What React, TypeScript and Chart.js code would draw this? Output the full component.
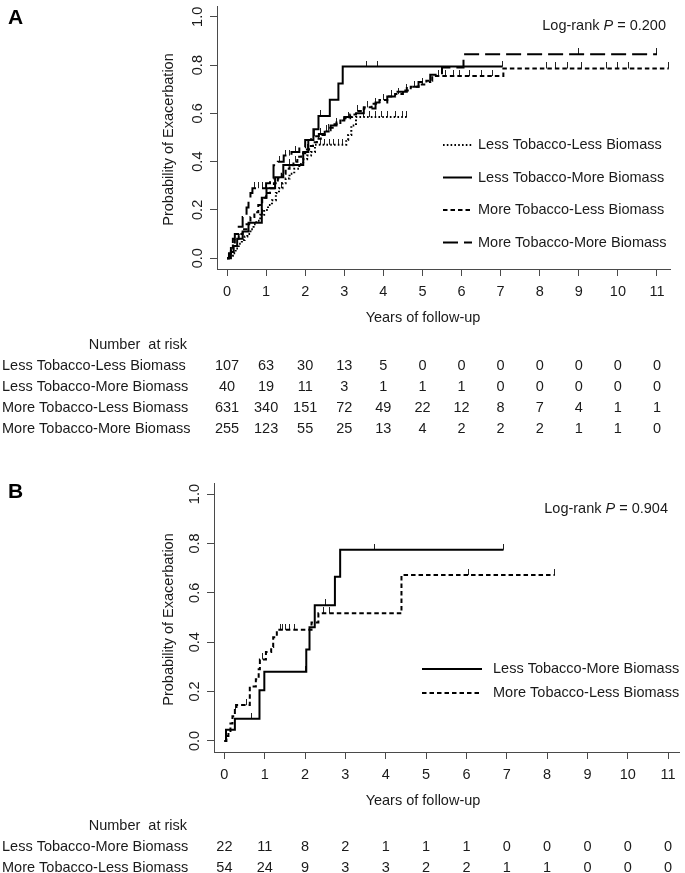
import React, { useEffect, useRef } from "react";
import { Chart, registerables } from "chart.js";

Chart.register(...registerables);

const FONT = '"Liberation Sans", Arial, Helvetica, sans-serif';
const TEXT = "#1a1a1a";
const AXIS = "#4a4a4a";
const INK = "#000000";

// ---------- shared ticks / labels ----------
const xTickValues = [0, 1, 2, 3, 4, 5, 6, 7, 8, 9, 10, 11];
const yTickValues = [0, 0.2, 0.4, 0.6, 0.8, 1.0];
const yTickLabels = ["0.0", "0.2", "0.4", "0.6", "0.8", "1.0"];
const yTitle = "Probability of Exacerbation";
const xTitle = "Years of follow-up";
const riskHeader = "Number  at risk";

const nameLTLB = "Less Tobacco-Less Biomass";
const nameLTMB = "Less Tobacco-More Biomass";
const nameMTLB = "More Tobacco-Less Biomass";
const nameMTMB = "More Tobacco-More Biomass";

// ---------- Panel A data ----------
const aLTLBTime = [0, 0.08, 0.15, 0.22, 0.3, 0.38, 0.45, 0.52, 0.6, 0.68, 0.75, 0.85, 0.95, 1.05, 1.15, 1.25, 1.33, 1.42, 1.5, 1.6, 1.72, 1.85, 1.95, 2.05, 2.15, 2.25, 3.05, 3.1, 3.18, 3.3, 4.65];
const aLTLBProb = [0, 0.01, 0.02, 0.04, 0.06, 0.075, 0.09, 0.1, 0.12, 0.14, 0.155, 0.18, 0.2, 0.22, 0.24, 0.27, 0.29, 0.31, 0.33, 0.35, 0.37, 0.39, 0.41, 0.425, 0.44, 0.47, 0.49, 0.51, 0.55, 0.585, 0.585];
const aLTLBCensor = [0.9, 1.4, 2.4, 2.5, 2.62, 2.72, 2.85, 2.95, 3.5, 3.65, 3.8, 3.95, 4.1, 4.3, 4.5, 4.6];

const aLTMBTime = [0, 0.1, 0.17, 0.26, 0.4, 0.55, 0.89, 1.01, 1.23, 1.44, 1.95, 2.08, 2.21, 2.34, 2.63, 2.85, 2.96, 7.05];
const aLTMBProb = [0, 0.025, 0.05, 0.08, 0.11, 0.147, 0.25, 0.29, 0.335, 0.386, 0.44, 0.49, 0.534, 0.589, 0.656, 0.724, 0.794, 0.794];
const aLTMBCensor = [0.3, 1.6, 2.4, 3.58, 3.84, 7.05];

const aMTLBTime = [0, 0.05, 0.1, 0.15, 0.2, 0.3, 0.4, 0.5, 0.6, 0.7, 0.8, 0.9, 1.0, 1.1, 1.2, 1.3, 1.4, 1.5, 1.6, 1.7, 1.8, 1.9, 2.0, 2.1, 2.2, 2.3, 2.4, 2.5, 2.6, 2.75, 2.9, 3.0, 3.15, 3.3, 3.5, 3.7, 3.9, 4.1, 4.3, 4.5, 4.7, 4.9, 5.1, 5.25, 7.07, 11.3];
const aMTLBProb = [0, 0.02, 0.04, 0.06, 0.08, 0.1, 0.12, 0.14, 0.17, 0.19, 0.22, 0.25, 0.27, 0.29, 0.31, 0.33, 0.35, 0.37, 0.385, 0.4, 0.42, 0.435, 0.45, 0.465, 0.48, 0.495, 0.51, 0.525, 0.54, 0.555, 0.57, 0.58, 0.595, 0.61, 0.625, 0.64, 0.655, 0.67, 0.68, 0.695, 0.71, 0.72, 0.735, 0.755, 0.786, 0.786];
const aMTLBCensor = [1.45, 1.75, 2.05, 2.35, 2.55, 2.8, 3.1, 3.35, 3.6, 3.8, 4.0, 4.2, 4.4, 4.6, 4.8, 5.0, 5.4, 5.6, 5.8, 5.95, 6.2, 6.5, 6.8, 8.18, 8.41, 8.7, 9.08, 9.72, 9.98, 10.27, 11.3];

const aMTMBTime = [0, 0.05, 0.1, 0.15, 0.2, 0.3, 0.4, 0.5, 0.55, 0.6, 0.65, 1.0, 1.1, 1.19, 1.3, 1.45, 1.65, 1.85, 2.0, 2.15, 2.35, 2.5, 2.65, 2.8, 3.0, 3.2, 3.5, 3.8, 4.1, 4.3, 4.6, 4.9, 5.2, 5.5, 6.05, 11.0];
const aMTMBProb = [0, 0.02, 0.05, 0.08, 0.1, 0.13, 0.17, 0.21, 0.235, 0.27, 0.29, 0.31, 0.33, 0.385, 0.4, 0.425, 0.44, 0.46, 0.49, 0.505, 0.515, 0.53, 0.55, 0.57, 0.585, 0.6, 0.62, 0.645, 0.67, 0.69, 0.71, 0.73, 0.76, 0.79, 0.845, 0.845];
const aMTMBCensor = [0.7, 0.8, 0.9, 1.35, 1.5, 1.6, 1.75, 2.25, 2.4, 2.6, 9.0, 11.0];

const aRiskLTLB = [107, 63, 30, 13, 5, 0, 0, 0, 0, 0, 0, 0];
const aRiskLTMB = [40, 19, 11, 3, 1, 1, 1, 0, 0, 0, 0, 0];
const aRiskMTLB = [631, 340, 151, 72, 49, 22, 12, 8, 7, 4, 1, 1];
const aRiskMTMB = [255, 123, 55, 25, 13, 4, 2, 2, 2, 1, 1, 0];
const aPValue = "0.200";

// ---------- Panel B data ----------
const bLTMBTime = [0, 0.04, 0.26, 0.87, 0.99, 2.03, 2.11, 2.24, 2.74, 2.87, 6.92];
const bLTMBProb = [0, 0.045, 0.09, 0.205, 0.28, 0.37, 0.46, 0.55, 0.665, 0.775, 0.775];
const bLTMBCensor = [0.66, 2.0, 2.5, 3.73, 6.92];

const bMTLBTime = [0, 0.05, 0.1, 0.15, 0.2, 0.26, 0.3, 0.63, 0.78, 0.85, 0.88, 1.03, 1.16, 1.21, 1.3, 2.16, 2.33, 4.39, 8.19];
const bMTLBProb = [0, 0.02, 0.04, 0.07, 0.1, 0.125, 0.145, 0.22, 0.25, 0.29, 0.33, 0.36, 0.38, 0.42, 0.45, 0.48, 0.517, 0.672, 0.672];
const bMTLBCensor = [0.27, 0.55, 0.95, 1.38, 1.45, 1.52, 1.62, 1.75, 2.45, 2.6, 6.06, 8.19];

const bRiskLTMB = [22, 11, 8, 2, 1, 1, 1, 0, 0, 0, 0, 0];
const bRiskMTLB = [54, 24, 9, 3, 3, 2, 2, 1, 1, 0, 0, 0];
const bPValue = "0.904";

// ---------- styles ----------
const dashDotted = [1.6, 2.2];
const dashSolid: number[] = [];
const dashDashed = [4.5, 3];
const dashLong = [15, 6];

type Series = { name: string; time: number[]; prob: number[]; censor: number[]; dash: number[] };
type Panel = {
  letter: string;
  pageTop: number;
  height: number;
  area: { left: number; right: number; top: number; bottom: number };
  xMin: number;
  xMax: number;
  series: Series[];
  legend: { x1: number; x2: number; textX: number; rows: number[] };
  pValue: string;
  pRight: number;
  pY: number;
  letterY: number;
  risk: { names: string[]; counts: number[][]; headerY: number; rows: number[] };
};

const panels: Panel[] = [
  {
    letter: "A",
    pageTop: 0,
    height: 460,
    area: { left: 217, right: 670, top: 0, bottom: 269 },
    xMin: -0.256,
    xMax: 11.333,
    series: [
      { name: nameLTLB, time: aLTLBTime, prob: aLTLBProb, censor: aLTLBCensor, dash: dashDotted },
      { name: nameLTMB, time: aLTMBTime, prob: aLTMBProb, censor: aLTMBCensor, dash: dashSolid },
      { name: nameMTLB, time: aMTLBTime, prob: aMTLBProb, censor: aMTLBCensor, dash: dashDashed },
      { name: nameMTMB, time: aMTMBTime, prob: aMTMBProb, censor: aMTMBCensor, dash: dashLong },
    ],
    legend: { x1: 443, x2: 472, textX: 478, rows: [145, 177.5, 210, 242.5] },
    pValue: aPValue,
    pRight: 666,
    pY: 26,
    letterY: 18,
    risk: {
      names: [nameLTLB, nameLTMB, nameMTLB, nameMTMB],
      counts: [aRiskLTLB, aRiskLTMB, aRiskMTLB, aRiskMTMB],
      headerY: 345,
      rows: [366, 387, 408, 429],
    },
  },
  {
    letter: "B",
    pageTop: 460,
    height: 413,
    area: { left: 214, right: 684, top: 23, bottom: 292 },
    xMin: -0.2575,
    xMax: 11.27,
    series: [
      { name: nameLTMB, time: bLTMBTime, prob: bLTMBProb, censor: bLTMBCensor, dash: dashSolid },
      { name: nameMTLB, time: bMTLBTime, prob: bMTLBProb, censor: bMTLBCensor, dash: dashDashed },
    ],
    legend: { x1: 422, x2: 482, textX: 493, rows: [209, 233] },
    pValue: bPValue,
    pRight: 668,
    pY: 49,
    letterY: 32,
    risk: {
      names: [nameLTMB, nameMTLB],
      counts: [bRiskLTMB, bRiskMTLB],
      headerY: 366,
      rows: [387, 408],
    },
  },
];

function stepValue(time: number[], prob: number[], t: number): number {
  let v = prob[0];
  for (let i = 0; i < time.length; i++) if (time[i] <= t) v = prob[i];
  return v;
}

// censor mark: a short vertical tick rising above the curve
function makeCensorMark(): HTMLCanvasElement {
  const c = document.createElement("canvas");
  c.width = 1;
  c.height = 12;
  const g = c.getContext("2d");
  if (g) {
    g.fillStyle = "#222";
    g.fillRect(0, 0, 1, 6);
  }
  return c;
}

function makeOverlay(panel: Panel) {
  return {
    id: "overlay" + panel.letter,
    afterDraw(chart: any) {
      const ctx: CanvasRenderingContext2D = chart.ctx;
      const xs = chart.scales.x;
      const ys = chart.scales.y;
      const area = chart.chartArea;
      const f = `14.5px ${FONT}`;
      ctx.save();
      ctx.fillStyle = TEXT;
      ctx.font = f;

      // rotated y tick labels
      yTickValues.forEach((v, i) => {
        const py = ys.getPixelForValue(v);
        ctx.save();
        ctx.translate(area.left - 19.5, py);
        ctx.rotate(-Math.PI / 2);
        ctx.textAlign = "center";
        ctx.textBaseline = "middle";
        ctx.fillText(yTickLabels[i], 0, 0);
        ctx.restore();
      });

      // y title
      ctx.save();
      ctx.translate(169, (area.top + area.bottom) / 2 + 2);
      ctx.rotate(-Math.PI / 2);
      ctx.textAlign = "center";
      ctx.textBaseline = "middle";
      ctx.fillText(yTitle, 0, 0);
      ctx.restore();

      // x title
      ctx.textAlign = "center";
      ctx.textBaseline = "middle";
      ctx.fillText(xTitle, 423, area.bottom + 49);

      // panel letter
      ctx.font = `bold 21px ${FONT}`;
      ctx.textAlign = "left";
      ctx.fillStyle = "#000";
      ctx.fillText(panel.letter, 8, panel.letterY);

      // log-rank text
      ctx.fillStyle = TEXT;
      ctx.font = f;
      const partA = "Log-rank ";
      const partC = " = " + panel.pValue;
      const wA = ctx.measureText(partA).width;
      const wC = ctx.measureText(partC).width;
      ctx.font = `italic 14.5px ${FONT}`;
      const wB = ctx.measureText("P").width;
      let sx = panel.pRight - (wA + wB + wC);
      ctx.textAlign = "left";
      ctx.font = f;
      ctx.fillText(partA, sx, panel.pY);
      sx += wA;
      ctx.font = `italic 14.5px ${FONT}`;
      ctx.fillText("P", sx, panel.pY);
      sx += wB;
      ctx.font = f;
      ctx.fillText(partC, sx, panel.pY);

      // legend
      panel.series.forEach((s, i) => {
        const y = panel.legend.rows[i];
        ctx.save();
        ctx.strokeStyle = INK;
        ctx.lineWidth = 2;
        ctx.setLineDash(s.dash);
        ctx.beginPath();
        ctx.moveTo(panel.legend.x1, y);
        ctx.lineTo(panel.legend.x2, y);
        ctx.stroke();
        ctx.restore();
        ctx.textAlign = "left";
        ctx.fillText(s.name, panel.legend.textX, y);
      });

      // number at risk table
      ctx.textAlign = "right";
      ctx.fillText(riskHeader, 187, panel.risk.headerY);
      panel.risk.names.forEach((nm, r) => {
        const y = panel.risk.rows[r];
        ctx.textAlign = "left";
        ctx.fillText(nm, 2, y);
        ctx.textAlign = "center";
        panel.risk.counts[r].forEach((c, j) => {
          ctx.fillText(String(c), xs.getPixelForValue(xTickValues[j]), y);
        });
      });
      ctx.restore();
    },
  };
}

function PanelChart({ panel }: { panel: Panel }) {
  const ref = useRef<HTMLCanvasElement | null>(null);
  useEffect(() => {
    const canvas = ref.current;
    if (!canvas) return;
    const mark = makeCensorMark();
    const datasets: any[] = [];
    panel.series.forEach((s) => {
      datasets.push({
        label: s.name,
        data: s.time.map((t, i) => ({ x: t, y: s.prob[i] })),
        stepped: "before",
        borderColor: INK,
        borderWidth: 2,
        borderDash: s.dash,
        borderCapStyle: "butt",
        borderJoinStyle: "miter",
        pointRadius: 0,
        fill: false,
      });
    });
    panel.series.forEach((s) => {
      datasets.push({
        label: s.name + " censored",
        data: s.censor.map((t) => ({ x: t, y: stepValue(s.time, s.prob, t) })),
        showLine: false,
        pointStyle: mark,
        pointRadius: 6,
        pointBorderWidth: 0,
        pointBorderColor: INK,
        pointBackgroundColor: INK,
      });
    });
    const H = panel.height;
    const chart = new Chart(canvas, {
      type: "line",
      data: { datasets },
      options: {
        responsive: false,
        maintainAspectRatio: false,
        animation: false,
        devicePixelRatio: 1,
        events: [],
        layout: { padding: { left: 0, right: 685 - panel.area.right, top: panel.area.top, bottom: 0 } },
        plugins: { legend: { display: false }, tooltip: { enabled: false }, title: { display: false } },
        scales: {
          x: {
            type: "linear",
            min: panel.xMin,
            max: panel.xMax,
            afterBuildTicks: (s: any) => {
              s.ticks = xTickValues.map((v) => ({ value: v }));
            },
            afterFit: (s: any) => {
              s.height = H - panel.area.bottom;
            },
            grid: { drawOnChartArea: false, drawTicks: true, tickLength: 7, color: AXIS, lineWidth: 1 },
            border: { display: true, color: AXIS, width: 1 },
            ticks: {
              font: { family: FONT, size: 14.5 },
              color: TEXT,
              padding: 7,
              maxRotation: 0,
              minRotation: 0,
              autoSkip: false,
            },
          },
          y: {
            type: "linear",
            min: -0.045,
            max: 1.045,
            afterBuildTicks: (s: any) => {
              s.ticks = yTickValues.map((v) => ({ value: v }));
            },
            afterFit: (s: any) => {
              s.width = panel.area.left;
            },
            grid: { drawOnChartArea: false, drawTicks: true, tickLength: 7, color: AXIS, lineWidth: 1 },
            border: { display: true, color: AXIS, width: 1 },
            ticks: { display: false },
          },
        },
      },
      plugins: [makeOverlay(panel)],
    } as any);
    return () => chart.destroy();
  }, [panel]);
  return (
    <canvas
      ref={ref}
      width={685}
      height={panel.height}
      style={{ position: "absolute", left: 0, top: panel.pageTop, width: 685, height: panel.height }}
    />
  );
}

export default function App() {
  return (
    <div style={{ position: "absolute", left: 0, top: 0, width: 685, height: 873, background: "#fff" }}>
      {panels.map((p) => (
        <PanelChart key={p.letter} panel={p} />
      ))}
    </div>
  );
}
